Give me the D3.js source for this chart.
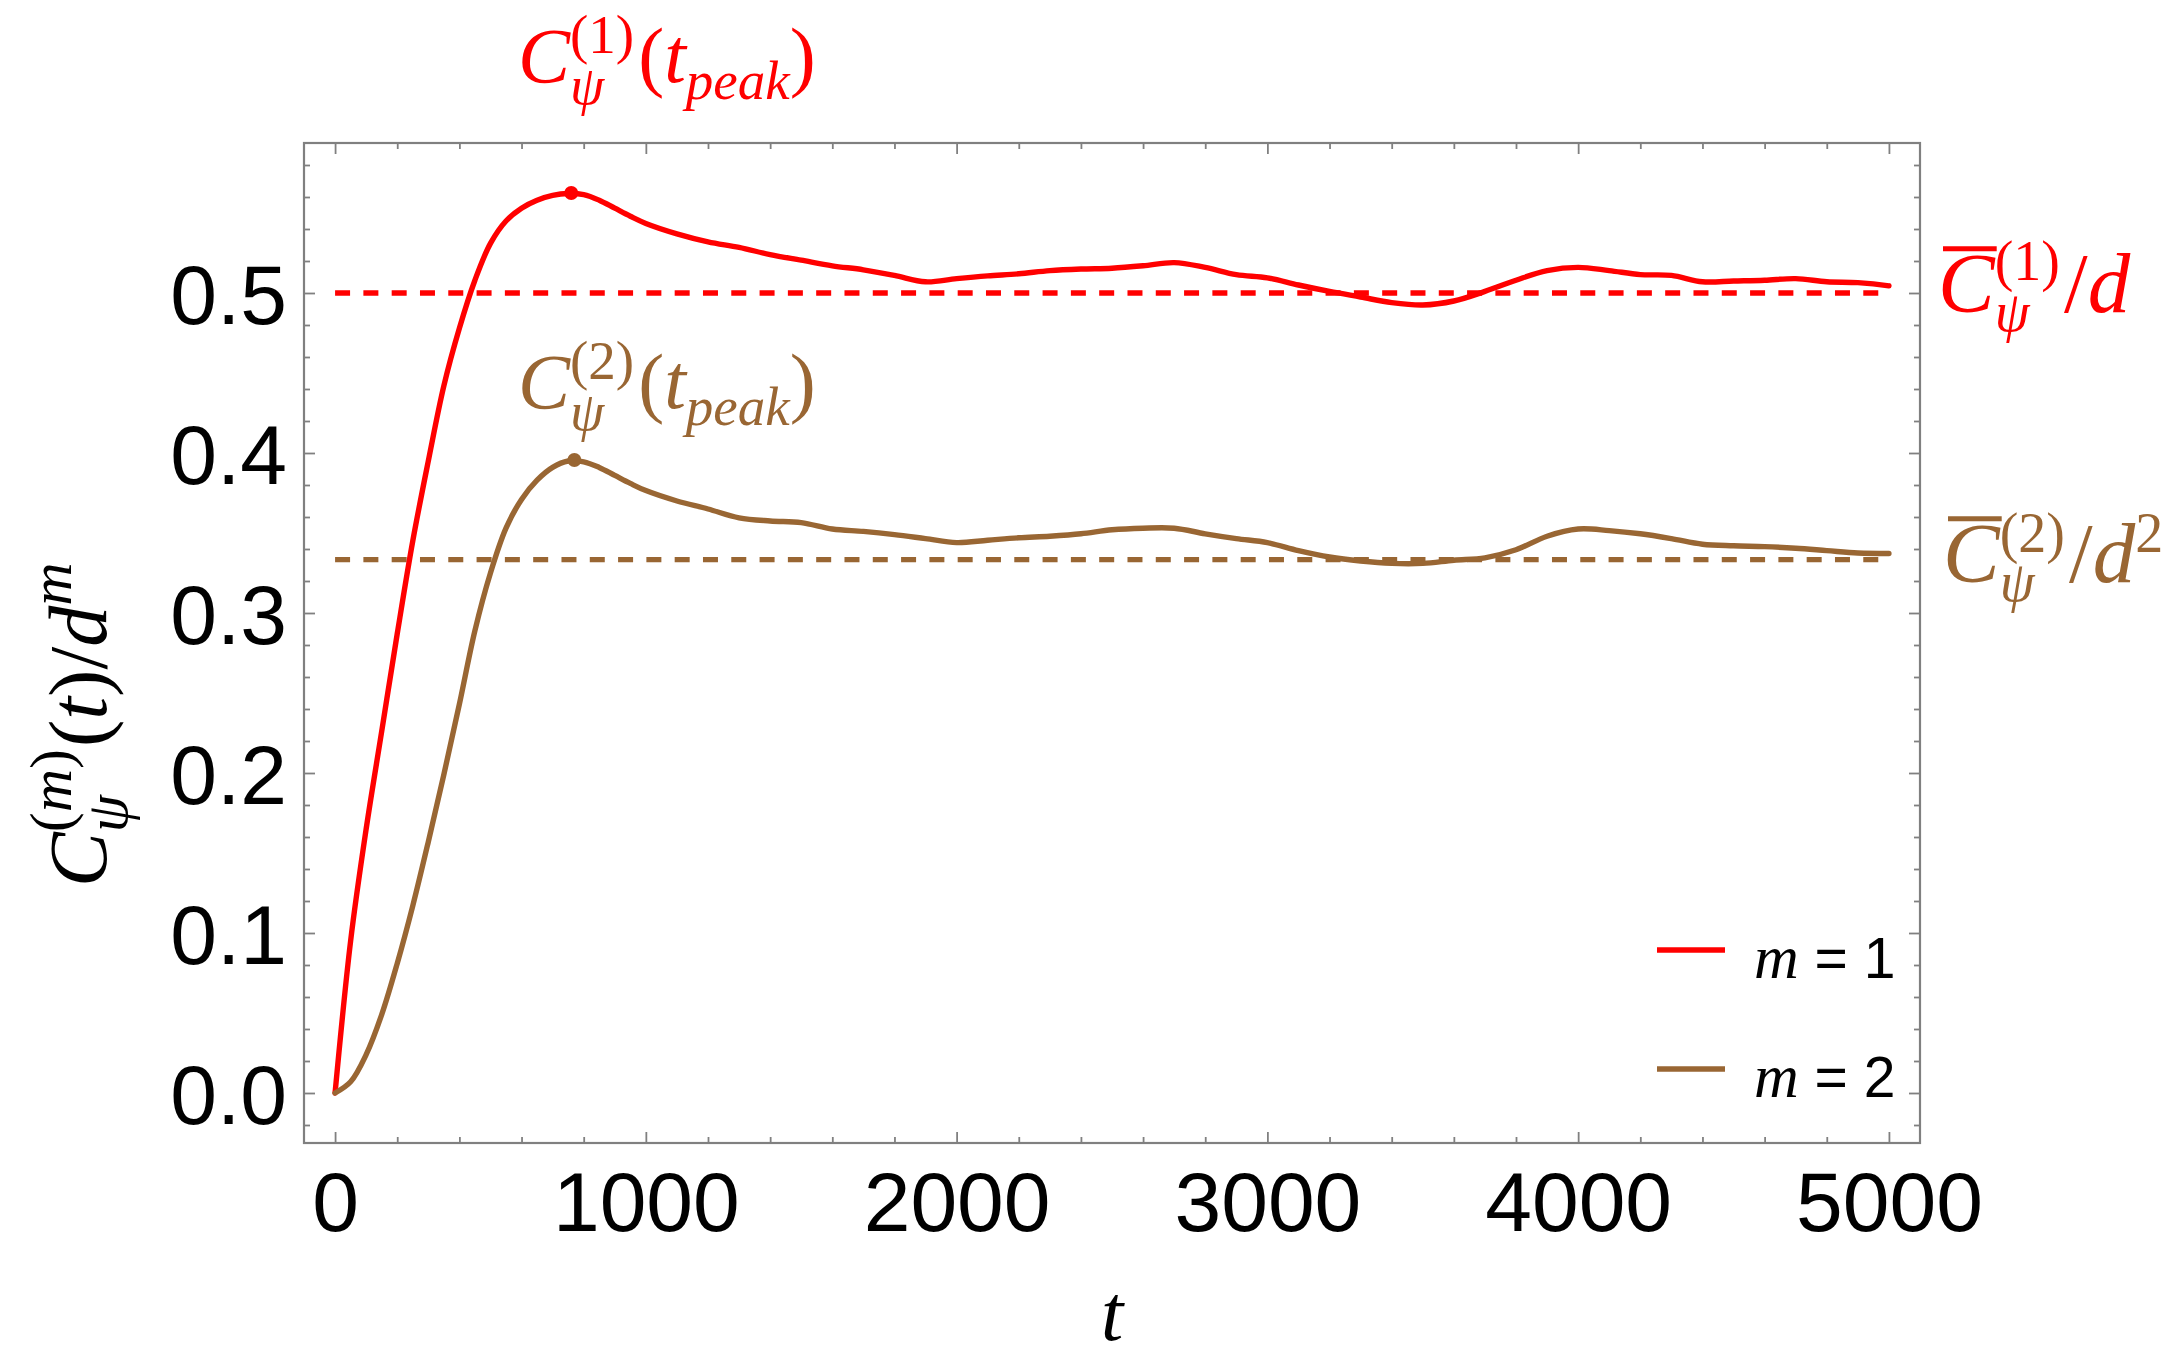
<!DOCTYPE html>
<html>
<head>
<meta charset="utf-8">
<script src="https://cdn.jsdelivr.net/npm/d3@7/dist/d3.min.js"></script>
<style>
  body { margin: 0; background: #fff; }
  svg { display: block; }
</style>
</head>
<body>
<svg id="chart" width="2177" height="1350"></svg>
<script>
// --- data ---
const tGrid = [0, 50, 100, 150, 200, 250, 300, 350, 400, 450, 500, 550, 600, 650, 700, 750, 800, 850, 900, 950, 1000,
  1100, 1200, 1300, 1400, 1500, 1600, 1700, 1800, 1900, 2000, 2100, 2200, 2300, 2400, 2500, 2600, 2700, 2800, 2900, 3000,
  3100, 3200, 3300, 3400, 3500, 3600, 3700, 3800, 3900, 4000, 4100, 4200, 4300, 4400, 4500, 4600, 4700, 4800, 4900, 5000];

const m1Values = [0, 0.095, 0.165, 0.226, 0.287, 0.345, 0.395, 0.442, 0.478, 0.508, 0.531, 0.545, 0.553, 0.558, 0.561, 0.5622, 0.5615, 0.558, 0.553, 0.548, 0.5435,
  0.537, 0.532, 0.5285, 0.524, 0.5205, 0.517, 0.5145, 0.511, 0.507, 0.509, 0.5107, 0.512, 0.514, 0.515, 0.5155, 0.517, 0.519, 0.516, 0.5115, 0.5095,
  0.505, 0.501, 0.4975, 0.494, 0.4925, 0.495, 0.501, 0.508, 0.514, 0.516, 0.514, 0.5115, 0.511, 0.507, 0.5075, 0.508, 0.509, 0.507, 0.5065, 0.5045];

const m2Values = [0, 0.007, 0.024, 0.049, 0.081, 0.117, 0.157, 0.199, 0.243, 0.289, 0.325, 0.353, 0.371, 0.383, 0.391, 0.395, 0.3945, 0.391, 0.386, 0.381, 0.3765,
  0.370, 0.365, 0.3595, 0.3575, 0.3565, 0.3525, 0.351, 0.349, 0.3465, 0.344, 0.3455, 0.347, 0.348, 0.3495, 0.352, 0.353, 0.353, 0.3495, 0.3465, 0.344,
  0.339, 0.335, 0.3325, 0.331, 0.331, 0.333, 0.3345, 0.3395, 0.348, 0.3525, 0.3515, 0.3495, 0.3465, 0.343, 0.342, 0.3415, 0.3405, 0.339, 0.3375, 0.3372];

const meanLevels = [0.5, 1 / 3];        // dashed lines  C̄(1)/d and C̄(2)/d²
const peakT = [760, 770];
const peakV = [0.5625, 0.3956];
const legendNames = ["1", "2"];

const xMajor = [0, 1000, 2000, 3000, 4000, 5000];
const yMajor = [0, 0.1, 0.2, 0.3, 0.4, 0.5];
const yTickLabels = ["0.0", "0.1", "0.2", "0.3", "0.4", "0.5"];

// --- style ---
const RED = "#ff0000", BROWN = "#996633", FRAME = "#808080";
const SERIF = "'Liberation Serif', 'Times New Roman', serif";
const SANS = "'Liberation Sans', Arial, sans-serif";

const svg = d3.select("#chart");
const x = d3.scaleLinear().domain([-100, 5100]).range([304, 1920]);
const y = d3.scaleLinear().domain([-0.03125, 0.59375]).range([1143, 143]);

const xMinor = d3.range(0, 5001, 200).filter(v => v % 1000 !== 0);
const yMinor = d3.range(-0.02, 0.59, 0.02).filter(v => Math.abs(v * 10 - Math.round(v * 10)) > 1e-6);

// --- axes (ticks on all four sides, pointing inward) ---
function tickAxis(axis, tr, values, size, fmt) {
  const g = svg.append("g").attr("transform", tr)
    .call(axis.tickValues(values).tickSize(-size).tickFormat(fmt || ""));
  g.select(".domain").remove();
  g.selectAll(".tick line").attr("stroke", FRAME).attr("stroke-width", 1.8);
  return g;
}

const xLab = tickAxis(d3.axisBottom(x).tickPadding(28), "translate(0,1143)", xMajor, 11, d3.format("d"));
tickAxis(d3.axisBottom(x), "translate(0,1143)", xMinor, 6);
tickAxis(d3.axisTop(x), "translate(0,143)", xMajor, 11);
tickAxis(d3.axisTop(x), "translate(0,143)", xMinor, 6);

const yLab = tickAxis(d3.axisLeft(y).tickPadding(17), "translate(304,0)", yMajor, 11, (d, i) => yTickLabels[i]);
tickAxis(d3.axisLeft(y), "translate(304,0)", yMinor, 6);
tickAxis(d3.axisRight(y), "translate(1920,0)", yMajor, 11);
tickAxis(d3.axisRight(y), "translate(1920,0)", yMinor, 6);

[xLab, yLab].forEach(g => g.attr("font-family", SANS).attr("font-size", 84)
  .selectAll("text").attr("fill", "#000"));
yLab.selectAll("text").attr("dy", "0.36em");

svg.append("rect").attr("x", 304).attr("y", 143).attr("width", 1616).attr("height", 1000)
  .attr("fill", "none").attr("stroke", FRAME).attr("stroke-width", 2.2);

// --- dashed mean levels ---
svg.selectAll(".mean").data(meanLevels).join("line")
  .attr("class", "mean")
  .attr("x1", x(0)).attr("x2", x(5000))
  .attr("y1", d => y(d)).attr("y2", d => y(d))
  .attr("stroke", (d, i) => i ? BROWN : RED)
  .attr("stroke-width", 5.4)
  .attr("stroke-dasharray", "15,13.3");

// --- curves ---
const line = d3.line().x((d, i) => x(tGrid[i])).y(d => y(d)).curve(d3.curveCatmullRom);
[m1Values, m2Values].forEach((vals, i) => {
  svg.append("path").attr("d", line(vals))
    .attr("fill", "none").attr("stroke", i ? BROWN : RED)
    .attr("stroke-width", 5.4).attr("stroke-linejoin", "round").attr("stroke-linecap", "round");
});

svg.selectAll(".peak").data(peakT).join("circle")
  .attr("class", "peak")
  .attr("cx", d => x(d)).attr("cy", (d, i) => y(peakV[i])).attr("r", 7)
  .attr("fill", (d, i) => i ? BROWN : RED);

// --- math-ish labels: letters italic, digits / brackets upright ---
function putText(g, px, py, str, size, color) {
  const t = g.append("text").attr("x", px).attr("y", py)
    .attr("font-family", SERIF).attr("font-size", size).attr("fill", color);
  str.match(/[A-Za-zψ]+|[^A-Za-zψ]+/g).forEach(r =>
    t.append("tspan").attr("font-style", /[A-Za-zψ]/.test(r) ? "italic" : "normal").text(r));
  return t.node().getComputedTextLength();
}

function mathLabel(g, px, py, parts, o) {
  let cx = px;
  parts.forEach(p => {
    let w = 0;
    if (p.t) {
      w = putText(g, cx, py, p.t, o.size, o.color);
      if (p.bar) {
        g.append("line").attr("x1", cx + 5).attr("x2", cx + w + 2)
          .attr("y1", py - o.size * 0.745).attr("y2", py - o.size * 0.745)
          .attr("stroke", o.color).attr("stroke-width", 5);
      }
    } else {
      if (p.sup) w = Math.max(w, putText(g, cx, py - o.up, p.sup, o.script, o.color));
      if (p.sub) w = Math.max(w, putText(g, cx, py + (p.down || o.down), p.sub, o.script, o.color));
    }
    cx += w + (p.gap || 0);
  });
}

// peak annotations
const annot = {size: 78, script: 55, up: 29, down: 22};
mathLabel(svg, 518, 82, [{t: "C"}, {sup: "(1)", sub: "ψ", gap: 4}, {t: "(t"}, {sub: "peak", down: 17}, {t: ")"}],
  Object.assign({color: RED}, annot));
mathLabel(svg, 518, 408, [{t: "C"}, {sup: "(2)", sub: "ψ", gap: 4}, {t: "(t"}, {sub: "peak", down: 17}, {t: ")"}],
  Object.assign({color: BROWN}, annot));

// mean labels at the right
mathLabel(svg, 1938, 312, [{t: "C", bar: true}, {sup: "(1)", sub: "ψ", gap: 4}, {t: "/d"}],
  {size: 85, script: 56, up: 32, down: 19, color: RED});
mathLabel(svg, 1943, 582, [{t: "C", bar: true}, {sup: "(2)", sub: "ψ", gap: 4}, {t: "/d"}, {sup: "2"}],
  {size: 85, script: 56, up: 30, down: 19, color: BROWN});

// axis titles
const yTitle = svg.append("g").attr("transform", "translate(106,887) rotate(-90)");
mathLabel(yTitle, 0, 0, [{t: "C"}, {sup: "(m)", sub: "ψ", gap: 2}, {t: "(t)/d"}, {sup: "m"}],
  {size: 82, script: 60, up: 35, down: 21, color: "#000"});

svg.append("text").attr("x", 1112).attr("y", 1340)
  .attr("text-anchor", "middle").attr("font-family", SERIF)
  .attr("font-style", "italic").attr("font-size", 80).text("t");

// --- legend ---
const legendY = [950, 1069];
const leg = svg.selectAll(".leg").data(legendNames).join("g")
  .attr("class", "leg")
  .attr("transform", (d, i) => `translate(1657,${legendY[i]})`);
leg.append("line").attr("x1", 0).attr("x2", 68)
  .attr("stroke", (d, i) => i ? BROWN : RED).attr("stroke-width", 5.5);
const legText = leg.append("text").attr("x", 97).attr("y", 28);
legText.append("tspan").attr("font-family", SERIF).attr("font-style", "italic")
  .attr("font-size", 62).text("m");
legText.append("tspan").attr("font-family", SANS).attr("font-size", 57)
  .text(d => " = " + d);
</script>
</body>
</html>
